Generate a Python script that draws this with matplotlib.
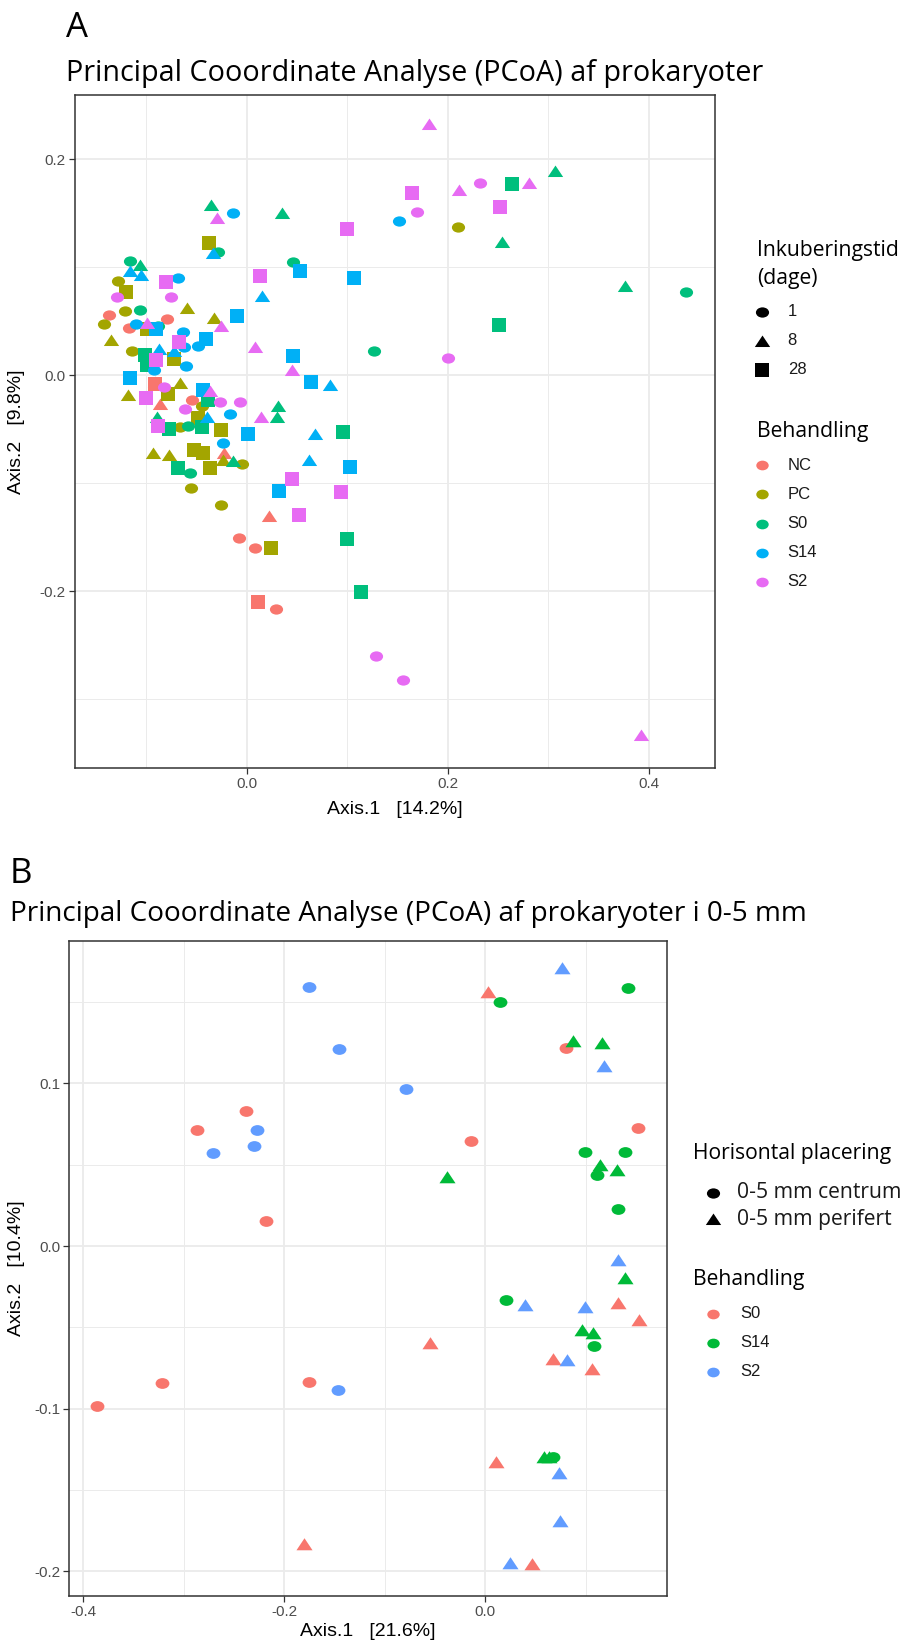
import matplotlib
matplotlib.use("Agg")
import matplotlib.pyplot as plt
from matplotlib.path import Path
from matplotlib.transforms import Affine2D
from matplotlib.ticker import MultipleLocator, FormatStrFormatter

plt.rcParams["font.family"] = ["Liberation Sans", "DejaVu Sans"]
plt.rcParams["axes.unicode_minus"] = False

W, H = 904, 1643
TITLE_FONT = ["Open Sans", "DejaVu Sans"]

# ---------------- panel A: PCoA prokaryoter ----------------
a_treatments = ["NC", "PC", "S0", "S14", "S2"]
a_colors = ["#F8766D", "#A3A500", "#00BF7D", "#00B0F6", "#E76BF3"]
a_days = ["1", "8", "28"]

# NC
nc_d1_x = [-0.137, -0.079, -0.117, -0.055, -0.008, 0.008, 0.029]
nc_d1_y = [0.056, 0.052, 0.044, -0.023, -0.151, -0.160, -0.2167]
nc_d8_x = [-0.0915, -0.0866, -0.0226, 0.022]
nc_d8_y = [-0.006, -0.027, -0.072, -0.131]
nc_d28_x = [-0.0915, 0.0106]
nc_d28_y = [-0.008, -0.210]

# PC
pc_d1_x = [0.210, -0.128, -0.121, -0.142, -0.114, -0.045, -0.067, -0.005, -0.056, -0.0256]
pc_d1_y = [0.137, 0.087, 0.059, 0.047, 0.022, -0.029, -0.048, -0.082, -0.105, -0.120]
pc_d8_x = [-0.060, -0.0325, -0.135, -0.067, -0.118, -0.0236, -0.093, -0.077]
pc_d8_y = [0.062, 0.053, 0.032, -0.007, -0.0185, -0.079, -0.0725, -0.074]
pc_d28_x = [-0.0375, -0.120, -0.099, -0.073, -0.078, -0.049, -0.026, -0.053, -0.0435, -0.037, 0.024]
pc_d28_y = [0.122, 0.077, 0.043, 0.015, -0.018, -0.040, -0.051, -0.069, -0.0725, -0.086, -0.160]

# S0
s0_d1_x = [0.437, 0.126, -0.0286, 0.046, -0.116, -0.106, -0.088, -0.059, -0.057]
s0_d1_y = [0.077, 0.022, 0.114, 0.105, 0.106, 0.060, 0.045, -0.047, -0.0905]
s0_d8_x = [0.307, 0.254, 0.376, -0.036, 0.035, -0.106, 0.031, 0.030, -0.089, -0.0136]
s0_d8_y = [0.189, 0.123, 0.082, 0.157, 0.150, 0.102, -0.029, -0.039, -0.039, -0.080]
s0_d28_x = [0.264, 0.251, -0.101, -0.099, -0.0385, -0.0776, -0.045, -0.069, 0.096, 0.0998, 0.114]
s0_d28_y = [0.177, 0.046, 0.0185, 0.009, -0.023, -0.050, -0.0485, -0.086, -0.0525, -0.152, -0.2006]

# S14
s14_d1_x = [0.151, -0.014, -0.069, -0.110, -0.064, -0.063, -0.049, -0.0925, -0.061, -0.017, -0.024]
s14_d1_y = [0.143, 0.150, 0.090, 0.047, 0.040, 0.026, 0.027, 0.005, 0.008, -0.036, -0.063]
s14_d8_x = [0.083, -0.034, -0.116, -0.105, 0.015, -0.087, -0.073, -0.040, 0.062, 0.068]
s14_d8_y = [-0.009, 0.113, 0.096, 0.093, 0.073, 0.024, 0.022, -0.0386, -0.079, -0.055]
s14_d28_x = [0.053, 0.107, 0.064, -0.010, -0.090, -0.041, 0.046, -0.116, -0.044, 0.0007, 0.032, 0.1025]
s14_d28_y = [0.096, 0.090, -0.006, 0.055, 0.043, 0.033, 0.018, -0.003, -0.014, -0.055, -0.107, -0.085]

# S2
s2_d1_x = [0.232, 0.169, 0.200, -0.129, -0.075, -0.082, -0.027, -0.007, -0.062, 0.128, 0.155]
s2_d1_y = [0.178, 0.151, 0.016, 0.072, 0.072, -0.011, -0.025, -0.025, -0.0315, -0.260, -0.282]
s2_d8_x = [0.181, 0.281, 0.211, -0.030, -0.099, -0.026, 0.008, 0.045, -0.037, 0.014, 0.392]
s2_d8_y = [0.232, 0.178, 0.171, 0.145, 0.048, 0.045, 0.026, 0.005, -0.015, -0.039, -0.333]
s2_d28_x = [0.164, 0.252, 0.100, -0.080, 0.013, -0.068, -0.090, -0.1005, -0.088, 0.045, 0.052, 0.094]
s2_d28_y = [0.169, 0.156, 0.135, 0.086, 0.092, 0.031, 0.014, -0.021, -0.047, -0.096, -0.130, -0.1086]

a_points = {
    "NC": [(nc_d1_x, nc_d1_y), (nc_d8_x, nc_d8_y), (nc_d28_x, nc_d28_y)],
    "PC": [(pc_d1_x, pc_d1_y), (pc_d8_x, pc_d8_y), (pc_d28_x, pc_d28_y)],
    "S0": [(s0_d1_x, s0_d1_y), (s0_d8_x, s0_d8_y), (s0_d28_x, s0_d28_y)],
    "S14": [(s14_d1_x, s14_d1_y), (s14_d8_x, s14_d8_y), (s14_d28_x, s14_d28_y)],
    "S2": [(s2_d1_x, s2_d1_y), (s2_d8_x, s2_d8_y), (s2_d28_x, s2_d28_y)],
}

# ---------------- panel B: 0-5 mm ----------------
b_treatments = ["S0", "S14", "S2"]
b_colors = ["#F8766D", "#00BA38", "#619CFF"]
b_places = ["0-5 mm centrum", "0-5 mm perifert"]

b_s0_c_x = [-0.2386, -0.2867, -0.0146, -0.218, 0.0805, 0.152, -0.3215, -0.176, -0.3868]
b_s0_c_y = [0.083, 0.0716, 0.0646, 0.0152, 0.1216, 0.0724, -0.0845, -0.0838, -0.0984]
b_s0_p_x = [0.0026, 0.1316, 0.153, -0.0554, 0.0676, 0.106, 0.0107, -0.1805, 0.0462]
b_s0_p_y = [0.156, -0.0349, -0.0455, -0.0595, -0.0693, -0.0758, -0.1326, -0.1835, -0.1958]

b_s14_c_x = [0.142, 0.0149, 0.099, 0.1385, 0.111, 0.132, 0.0203, 0.1085, 0.0676]
b_s14_c_y = [0.1585, 0.150, 0.0576, 0.0576, 0.0437, 0.0226, -0.0332, -0.0615, -0.1296]
b_s14_p_x = [-0.038, 0.087, 0.116, 0.1143, 0.131, 0.139, 0.0964, 0.1069, 0.058, 0.063]
b_s14_p_y = [0.0426, 0.126, 0.125, 0.0498, 0.047, -0.0199, -0.0517, -0.0537, -0.130, -0.130]

b_s2_c_x = [-0.1756, -0.146, -0.079, -0.2273, -0.2306, -0.271, -0.1466]
b_s2_c_y = [0.1595, 0.121, 0.0966, 0.0716, 0.0615, 0.057, -0.0884]
b_s2_p_x = [0.076, 0.1176, 0.132, 0.0396, 0.0994, 0.081, 0.0734, 0.0746, 0.0245]
b_s2_p_y = [0.171, 0.111, -0.0086, -0.0363, -0.0373, -0.0701, -0.1394, -0.169, -0.1948]

b_points = {
    "S0": [(b_s0_c_x, b_s0_c_y), (b_s0_p_x, b_s0_p_y)],
    "S14": [(b_s14_c_x, b_s14_c_y), (b_s14_p_x, b_s14_p_y)],
    "S2": [(b_s2_c_x, b_s2_c_y), (b_s2_p_x, b_s2_p_y)],
}

# ggplot-like solid shapes (the screenshot is a bit wide)
CIRCLE = Path.unit_circle().transformed(Affine2D().scale(1.0, 0.78))
TRIANGLE = Path([(-1, -0.72), (1, -0.72), (0, 0.78), (-1, -0.72)],
                [Path.MOVETO, Path.LINETO, Path.LINETO, Path.CLOSEPOLY])
SHAPES = [(CIRCLE, 90), (TRIANGLE, 122), ("s", 90)]

fig = plt.figure(figsize=(W / 100, H / 100), dpi=100)
fig.patch.set_facecolor("white")
renderer = fig.canvas.get_renderer()


def px_axes(l, t, r, b):
    return fig.add_axes([l / W, 1 - b / H, (r - l) / W, (b - t) / H])


def style_axes(ax, xmaj, ymaj):
    ax.xaxis.set_major_locator(MultipleLocator(xmaj))
    ax.xaxis.set_minor_locator(MultipleLocator(xmaj / 2))
    ax.yaxis.set_major_locator(MultipleLocator(ymaj))
    ax.yaxis.set_minor_locator(MultipleLocator(ymaj / 2))
    ax.xaxis.set_major_formatter(FormatStrFormatter("%.1f"))
    ax.yaxis.set_major_formatter(FormatStrFormatter("%.1f"))
    ax.grid(which="major", color="#EBEBEB", lw=1.3)
    ax.grid(which="minor", color="#EBEBEB", lw=0.7)
    ax.set_axisbelow(True)
    for sp in ax.spines.values():
        sp.set_color("#333333")
        sp.set_linewidth(1.1)
    ax.tick_params(which="major", length=4, width=0.9, color="#333333",
                   labelsize=11, labelcolor="#4D4D4D", pad=2.5)
    ax.tick_params(which="minor", length=0)


def put(x, y, s, **kw):
    return fig.text(x / W, 1 - y / H, s, **kw)


def fit_size(s, width, family):
    t = fig.text(0, 0, s, family=family, fontsize=20)
    w = t.get_window_extent(renderer).width
    t.remove()
    return 20 * width / w


# ---------------- draw panel A ----------------
axA = px_axes(75, 95, 715, 768)
style_axes(axA, 0.2, 0.2)
for treat, col in zip(a_treatments, a_colors):
    for (xs, ys), (mk, sz) in zip(a_points[treat], SHAPES):
        axA.scatter(xs, ys, s=sz, marker=mk, c=col, linewidths=0, zorder=3)
axA.set_xlim(-0.171, 0.4657)
axA.set_ylim(-0.3639, 0.2593)

# ---------------- draw panel B ----------------
axB = px_axes(69.3, 940.7, 666.7, 1595.6)
style_axes(axB, 0.2, 0.1)
for treat, col in zip(b_treatments, b_colors):
    for (xs, ys), (mk, sz) in zip(b_points[treat], SHAPES[:2]):
        axB.scatter(xs, ys, s=sz * 1.1, marker=mk, c=col, linewidths=0, zorder=3)
axB.set_xlim(-0.414, 0.1804)
axB.set_ylim(-0.215, 0.1878)

# ---------------- titles and axis titles ----------------
put(66, 37, "A", family=TITLE_FONT, fontsize=25, va="baseline")
put(10, 883, "B", family=TITLE_FONT, fontsize=25, va="baseline")
titleA = "Principal Cooordinate Analyse (PCoA) af prokaryoter"
titleB = "Principal Cooordinate Analyse (PCoA) af prokaryoter i 0-5 mm"
put(66, 81, titleA, family=TITLE_FONT, va="baseline",
    fontsize=fit_size(titleA, 694, TITLE_FONT))
put(10, 921, titleB, family=TITLE_FONT, va="baseline",
    fontsize=fit_size(titleB, 795, TITLE_FONT))

put(395, 809, "Axis.1   [14.2%]", fontsize=14, ha="center", va="center")
put(17, 431.5, "Axis.2   [9.8%]", fontsize=14, ha="center", va="center", rotation=90)
put(368, 1632, "Axis.1   [21.6%]", fontsize=14, ha="center", va="center")
put(17, 1268, "Axis.2   [10.4%]", fontsize=14, ha="center", va="center", rotation=90)

# ---------------- legends ----------------
leg_fs = fit_size("Behandling", 111, TITLE_FONT)
lab_fs = 12
key_circle = 80


def legend_block(x0, y_title, title_lines, x_key, x_lab, y_first, step,
                 labels, markers, colors, sizes, lab_font, lab_size):
    for i, line in enumerate(title_lines):
        put(x0, y_title + i * 27.6, line, family=TITLE_FONT, fontsize=leg_fs, va="center")
    for i, (lab, mk, col, sz) in enumerate(zip(labels, markers, colors, sizes)):
        yy = y_first + i * step
        fig.add_artist(plt.Line2D([x_key / W], [1 - yy / H], marker=mk, color=col,
                                  markersize=sz ** 0.5, markeredgewidth=0,
                                  linestyle="none", transform=fig.transFigure))
        put(x_lab, yy, lab, family=lab_font, fontsize=lab_size, va="center",
            color="#1A1A1A")


shape_marks = [m for m, _ in SHAPES]
shape_sizes = [s for _, s in SHAPES]
legend_block(757, 250.7, ["Inkuberingstid", "(dage)"], 762, 787.7, 311.7, 29.0,
             a_days, shape_marks, ["black"] * 3, shape_sizes,
             ["Liberation Sans"], lab_fs)
legend_block(757, 431.7, ["Behandling"], 762, 787.7, 465.0, 29.25,
             a_treatments, [CIRCLE] * 5, a_colors, [key_circle] * 5,
             ["Liberation Sans"], lab_fs)
legend_block(693.3, 1154, ["Horisontal placering"], 713, 736.7, 1192.7, 26.6,
             b_places, shape_marks[:2], ["black"] * 2, shape_sizes[:2],
             TITLE_FONT, leg_fs)
legend_block(693.3, 1279.3, ["Behandling"], 713.3, 740, 1314, 28.85,
             b_treatments, [CIRCLE] * 3, b_colors, [key_circle] * 3,
             ["Liberation Sans"], lab_fs)

fig.savefig("out.png", dpi=100)
